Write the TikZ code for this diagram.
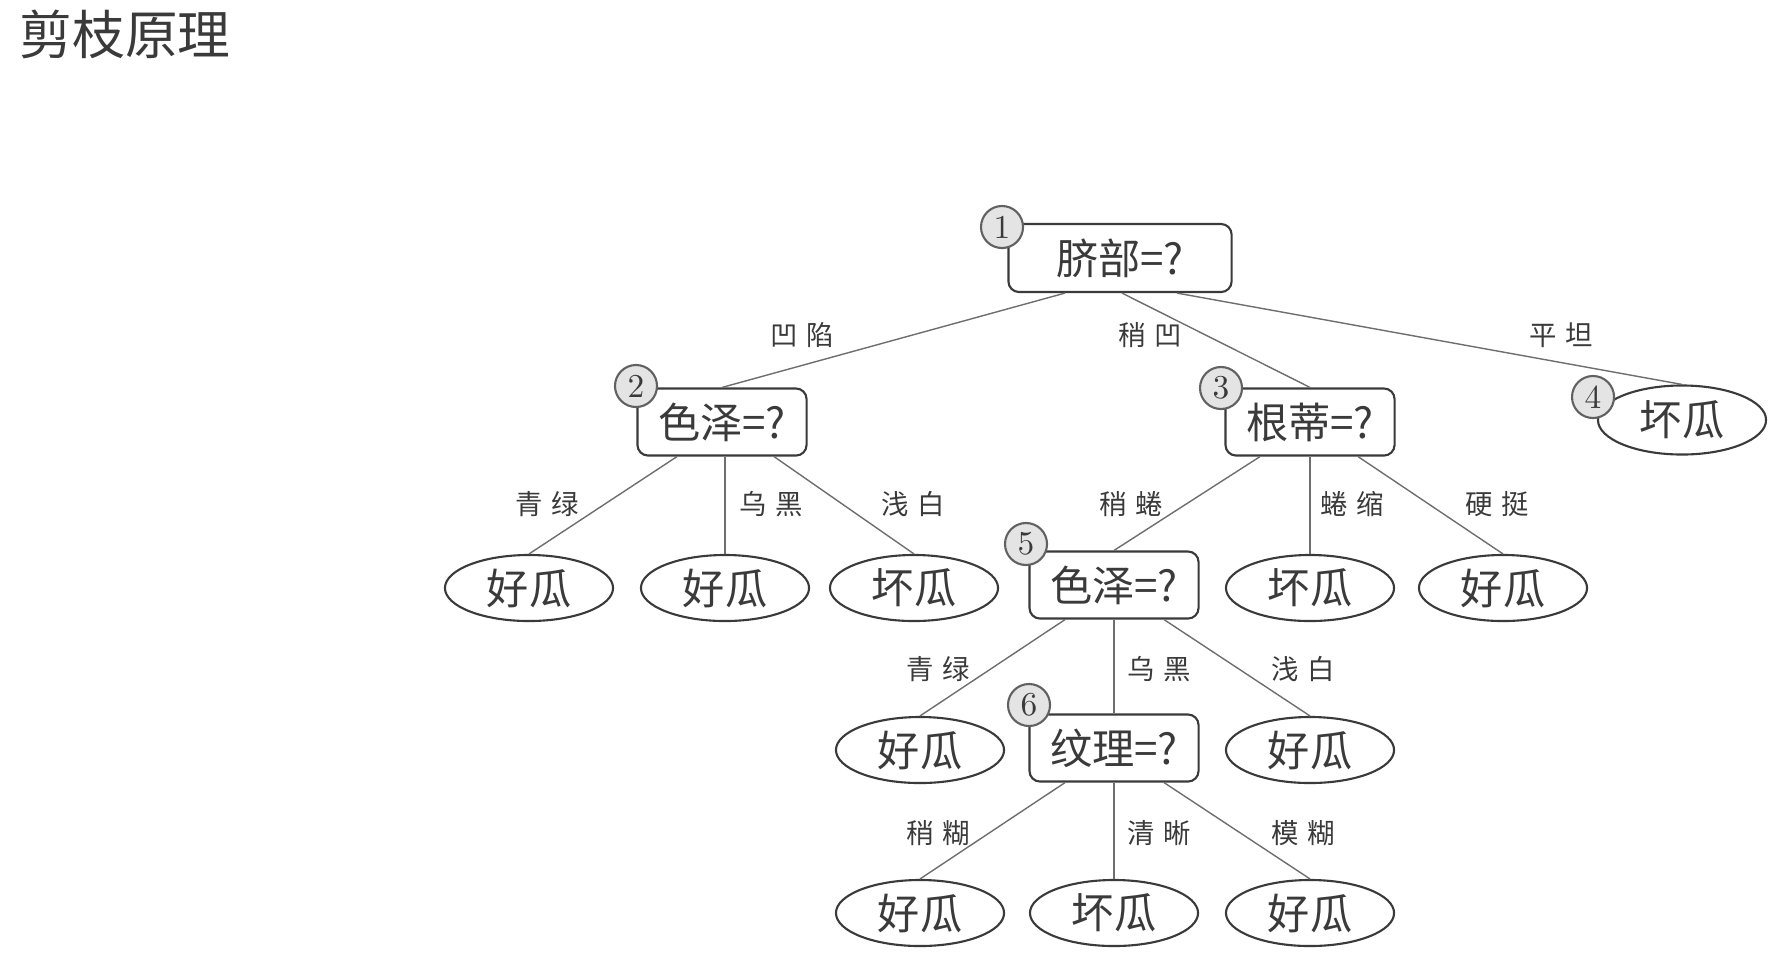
\documentclass[tikz,border=0pt]{standalone}
\usepackage{fontspec}
\newfontfamily\cjkfont{Noto Sans CJK SC}
\newfontfamily\cjkspaced[LetterSpace=30]{Noto Sans CJK SC}
\usepackage{xcolor}
\usepackage{tikz}
\usetikzlibrary{shapes.geometric, calc}
\definecolor{inkgray}{HTML}{3A3A3A}
\definecolor{linegray}{HTML}{6E6E6E}
\definecolor{tagfill}{HTML}{E4E4E4}
\tikzset{
  testbox/.style={draw=inkgray,semithick,rounded corners=3pt,minimum width=1.69cm,minimum height=0.67cm,inner sep=1pt,font=\cjkfont\fontsize{12pt}{14pt}\selectfont,text=inkgray},
  leafnode/.style={ellipse,draw=inkgray,semithick,minimum width=1.68cm,minimum height=0.66cm,inner sep=0pt,font=\cjkfont\fontsize{12pt}{14pt}\selectfont,text=inkgray},
  numtag/.style={circle,draw=inkgray!80,fill=tagfill,semithick,minimum size=0.42cm,inner sep=0pt,font=\fontsize{9.5pt}{10pt}\selectfont,text=inkgray},
  branch/.style={linegray,thin},
  edgetext/.style={inner sep=0pt,font=\cjkspaced\fontsize{7.8pt}{9pt}\selectfont,text=inkgray},
}

\begin{document}
\begin{tikzpicture}[x=0.01cm,y=-0.01cm]
  \useasboundingbox (0,0) rectangle (1777,954);
  \node[anchor=west,inner sep=0pt,font=\cjkfont\fontsize{15pt}{17pt}\selectfont,text=inkgray] (title) at (19,34) {剪枝原理};
  % tests
  \node[testbox,minimum width=2.23cm,minimum height=0.68cm] (n1) at (1120,258) {脐部=?};
  \node[testbox] (n2) at (722,422) {色泽=?};
  \node[testbox] (n3) at (1310,422) {根蒂=?};
  \node[leafnode,minimum height=0.69cm] (n4) at (1682,420) {坏瓜};
  \node[testbox] (n5) at (1114,585) {色泽=?};
  \node[testbox] (n6) at (1114,748) {纹理=?};
  % leaves
  \node[leafnode] (l21) at (529,588) {好瓜};
  \node[leafnode] (l22) at (725,588) {好瓜};
  \node[leafnode] (l23) at (914,588) {坏瓜};
  \node[leafnode] (l31) at (1310,588) {坏瓜};
  \node[leafnode] (l32) at (1503,588) {好瓜};
  \node[leafnode] (l51) at (920,750) {好瓜};
  \node[leafnode] (l53) at (1310,750) {好瓜};
  \node[leafnode] (l61) at (920,913) {好瓜};
  \node[leafnode] (l62) at (1114,913) {坏瓜};
  \node[leafnode] (l63) at (1310,913) {好瓜};
  % number tags
  \node[numtag] (c1) at (1002,227) {1};
  \node[numtag] (c2) at (636,386) {2};
  \node[numtag] (c3) at (1221,388) {3};
  \node[numtag] (c4) at (1593,397) {4};
  \node[numtag] (c5) at (1026,544) {5};
  \node[numtag] (c6) at (1029,705) {6};
  % branches
  \draw[branch] ($(n1.south)+(-55,0)$) -- (n2.north);
  \draw[branch] ($(n1.south)+(2,0)$) -- (n3.north);
  \draw[branch] ($(n1.south)+(57,0)$) -- (n4.north);
  \draw[branch] ($(n2.south)+(-45,0)$) -- (l21.north);
  \draw[branch] ($(n2.south)+(3,0)$) -- (l22.north);
  \draw[branch] ($(n2.south)+(52,0)$) -- (l23.north);
  \draw[branch] ($(n3.south)+(-50,0)$) -- (n5.north);
  \draw[branch] (n3.south) -- (l31.north);
  \draw[branch] ($(n3.south)+(48,0)$) -- (l32.north);
  \draw[branch] ($(n5.south)+(-49,0)$) -- (l51.north);
  \draw[branch] (n5.south) -- (n6.north);
  \draw[branch] ($(n5.south)+(50,0)$) -- (l53.north);
  \draw[branch] ($(n6.south)+(-49,0)$) -- (l61.north);
  \draw[branch] (n6.south) -- (l62.north);
  \draw[branch] ($(n6.south)+(50,0)$) -- (l63.north);
  % branch labels
  \node[edgetext] (t12) at (802,335) {凹陷};
  \node[edgetext] (t13) at (1150,335) {稍凹};
  \node[edgetext] (t14) at (1561,335) {平坦};
  \node[edgetext] (t21) at (547,504) {青绿};
  \node[edgetext] (t22) at (771,504) {乌黑};
  \node[edgetext] (t23) at (913,504) {浅白};
  \node[edgetext] (t35) at (1131,504) {稍蜷};
  \node[edgetext] (t31) at (1352,504) {蜷缩};
  \node[edgetext] (t32) at (1497,504) {硬挺};
  \node[edgetext] (t51) at (938,669) {青绿};
  \node[edgetext] (t56) at (1159,669) {乌黑};
  \node[edgetext] (t53) at (1303,669) {浅白};
  \node[edgetext] (t61) at (938,833) {稍糊};
  \node[edgetext] (t62) at (1159,833) {清晰};
  \node[edgetext] (t63) at (1303,833) {模糊};
\end{tikzpicture}
\end{document}
